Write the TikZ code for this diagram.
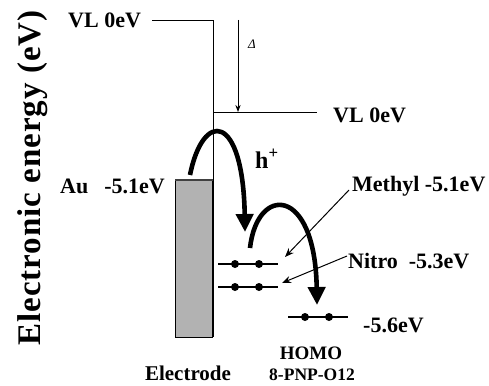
\documentclass[tikz,border=0pt]{standalone}
\usepackage{fontspec}
\setmainfont{Liberation Serif}
\newfontfamily\spacedserif[LetterSpace=3]{Liberation Serif}
\usetikzlibrary{arrows.meta,calc}

\begin{document}
\begin{tikzpicture}[x=1pt,y=-1pt,>=Stealth,
  lbl/.style={inner sep=0pt,anchor=base west,font=\fontsize{22}{24}\selectfont\bfseries},
  cap/.style={inner sep=0pt,anchor=base,font=\fontsize{#1}{#1}\selectfont\bfseries},
  level/.style={line width=1.2pt},
  elec/.style={circle,fill=black,inner sep=0pt,minimum size=8pt},
  hop/.style={line width=4.6pt,-{Triangle[length=18pt,width=17pt]}},
  ptr/.style={line width=1pt,-{Stealth[length=9pt,width=7pt]}}]
  \useasboundingbox (0,0) rectangle (489,385);

  \node[rotate=90,anchor=base,inner sep=0pt,
    font=\fontsize{33}{36}\spacedserif\bfseries] (axis) at (40,178) {Electronic energy (eV)};

  % vacuum levels
  \node[lbl] (vlL) at (68,28) {VL 0eV};
  \coordinate (vlA) at (152,20);
  \coordinate (vlB) at (213,20);
  \coordinate (vlC) at (213,337);
  \draw (vlA) -- (vlB) -- (vlC);
  \coordinate (vlD) at (213,112);
  \coordinate (vlE) at (317,112);
  \draw (vlD) -- (vlE);
  \node[lbl] (vlR) at (333,122) {VL 0eV};
  \coordinate (shA) at (238,20);
  \coordinate (shB) at (238,112);
  \draw[->,line width=0.9pt] (shA) -- (shB);
  \node[inner sep=0pt,font=\fontsize{13}{13}\selectfont\itshape] (dlt) at (252,44) {Δ};

  % electrode
  \draw[fill=black!30] (175,180) rectangle (212,337);
  \draw[line width=2pt,black!75] (175,180) -- (213,180);
  \node[lbl] (au) at (60,193) {Au\hspace{16pt}-5.1eV};
  \node[cap=21] (el) at (188,380) {Electrode};

  % molecular levels
  \foreach \n/\x/\y in {me/218/264, ni/218/287, ho/288/317} {
    \draw[level] (\x,\y) coordinate (\n W) -- ++(60,0) coordinate (\n E);
    \node[elec] (\n1) at (\x+17,\y) {};
    \node[elec] (\n2) at (\x+41,\y) {};
  }
  \node[lbl] (melbl) at (352,191) {Methyl -5.1eV};
  \node[lbl] (nilbl) at (348,268) {Nitro\hspace{11pt}-5.3eV};
  \node[lbl] (holbl) at (363,332) {-5.6eV};
  \node[cap=19] (homo) at (311,359) {HOMO};
  \node[cap=17.5] (mol) at (312,380) {8-PNP-O12};

  \coordinate (meS) at (349,190);
  \coordinate (meT) at (285,257);
  \coordinate (niS) at (347,256);
  \coordinate (niT) at (282,283);
  \draw[ptr] (meS) -- (meT);
  \draw[ptr] (niS) -- (niT);

  % hole hopping
  \coordinate (hAs) at (190,175);
  \coordinate (hAe) at (245,232);
  \coordinate (hBs) at (250,248);
  \coordinate (hBe) at (317,305);
  \draw[hop] (hAs) .. controls (203,110) and (243,112) .. (hAe);
  \draw[hop] (hBs) .. controls (257,185) and (315,185) .. (hBe);
  \node[lbl,font=\fontsize{24}{26}\selectfont\bfseries] (hp) at (255,168) {h\textsuperscript{+}};
\end{tikzpicture}
\end{document}
